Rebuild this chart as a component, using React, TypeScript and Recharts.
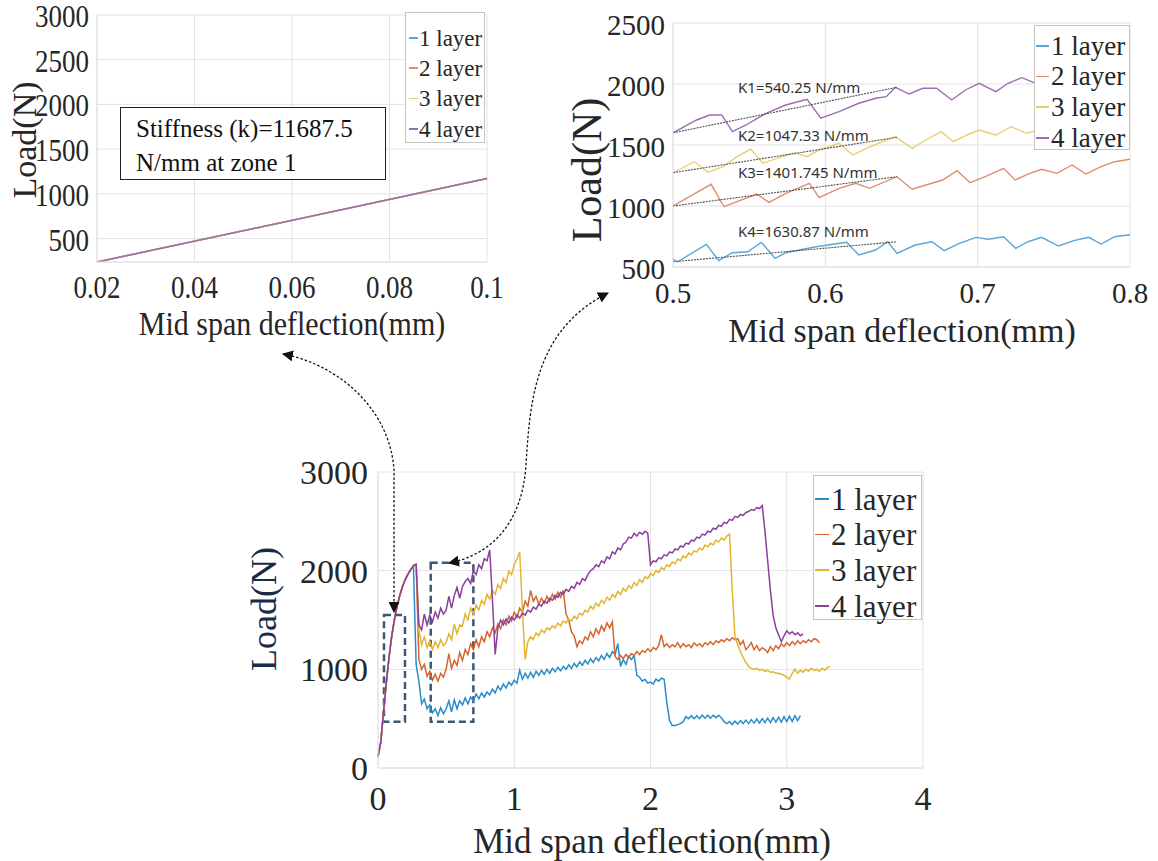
import React from "react";
import { LineChart, Line, XAxis, YAxis, CartesianGrid, ReferenceArea } from "recharts";

const SERIF = '"Liberation Serif", "Times New Roman", serif';
const SANS = '"Noto Sans", "Open Sans", sans-serif';
const INK = "#262626";
const GRID = "#e2e2e2";

const layerNames = ["1 layer", "2 layer", "3 layer", "4 layer"];
const layerColors = ["#2a8cc8", "#d6662f", "#e3b431", "#8a3f9c"];
const zoomColors = ["#5ca6d6", "#df8d6c", "#e8cf6c", "#9e6cb1"];

// ---- zone 1 (top left)
const zone1Deflection = [0.02, 0.1];
const zone1Load = [238, 1171];
const zone1XTicks = [0.02, 0.04, 0.06, 0.08, 0.1];
const zone1YTicks = [500, 1000, 1500, 2000, 2500, 3000];

// ---- zone 2 (top right), [deflection, load]
const zoomLayer1 = [
  [0.5, 563], [0.503, 543], [0.522, 686], [0.53, 552], [0.539, 617], [0.549, 625], [0.558, 702],
  [0.567, 571], [0.574, 617], [0.583, 639], [0.594, 666], [0.605, 686], [0.614, 702], [0.622, 598],
  [0.633, 639], [0.641, 707], [0.647, 612], [0.659, 680], [0.67, 707], [0.678, 634], [0.688, 694],
  [0.699, 743], [0.707, 727], [0.717, 748], [0.725, 653], [0.733, 707], [0.742, 743], [0.753, 672],
  [0.763, 716], [0.773, 743], [0.781, 688], [0.79, 748], [0.8, 765],
];
const zoomLayer2 = [
  [0.5, 1000], [0.525, 1178], [0.5335, 994], [0.555, 1098], [0.563, 1030], [0.574, 1104], [0.5895, 1186],
  [0.596, 1068], [0.609, 1145], [0.62, 1186], [0.629, 1145], [0.647, 1240], [0.657, 1137], [0.666, 1172],
  [0.677, 1213], [0.6865, 1289], [0.695, 1191], [0.705, 1240], [0.717, 1309], [0.7246, 1213], [0.733, 1262],
  [0.742, 1301], [0.752, 1268], [0.762, 1336], [0.771, 1262], [0.781, 1322], [0.79, 1363], [0.8, 1383],
];
const zoomLayer3 = [
  [0.5, 1273], [0.514, 1363], [0.523, 1276], [0.533, 1322], [0.542, 1404], [0.551, 1467], [0.559, 1350],
  [0.57, 1399], [0.58, 1437], [0.588, 1404], [0.596, 1459], [0.609, 1514], [0.618, 1418], [0.627, 1473],
  [0.6375, 1527], [0.646, 1568], [0.657, 1473], [0.666, 1541], [0.676, 1609], [0.684, 1527], [0.693, 1582],
  [0.701, 1623], [0.712, 1582], [0.722, 1650], [0.732, 1596], [0.745, 1640], [0.757, 1690], [0.768, 1640],
  [0.779, 1700], [0.79, 1750], [0.8, 1800],
];
const zoomLayer4 = [
  [0.5, 1600], [0.5155, 1705], [0.524, 1746], [0.532, 1746], [0.539, 1609], [0.548, 1664], [0.561, 1760],
  [0.574, 1828], [0.588, 1874], [0.597, 1719], [0.609, 1773], [0.622, 1842], [0.633, 1883], [0.64, 1896],
  [0.646, 1973], [0.655, 1918], [0.664, 1965], [0.673, 1965], [0.683, 1869], [0.692, 1951], [0.701, 2006],
  [0.712, 1937], [0.72, 2006], [0.729, 2052], [0.737, 2011], [0.745, 1980], [0.755, 2040], [0.765, 2080],
  [0.775, 2020], [0.785, 2080], [0.795, 2120], [0.8, 2170],
];
const fitLines = [
  [[0.5, 1600], [0.647, 1973]],
  [[0.5, 1273], [0.647, 1563]],
  [[0.5, 1000], [0.647, 1240]],
  [[0.5, 543], [0.647, 707]],
];
const stiffnessLabels = ["K1=540.25 N/mm", "K2=1047.33 N/mm", "K3=1401.745 N/mm", "K4=1630.87 N/mm"];
const zoomXTicks = [0.5, 0.6, 0.7, 0.8];
const zoomYTicks = [500, 1000, 1500, 2000, 2500];

// ---- full curves (bottom), shared deflection grid
const bottomX = [
  0, 0.02, 0.04, 0.06, 0.08, 0.1, 0.12, 0.14, 0.16, 0.18,
  0.2, 0.22, 0.24, 0.26, 0.28, 0.3, 0.32, 0.34, 0.36, 0.38,
  0.4, 0.42, 0.44, 0.46, 0.48, 0.5, 0.52, 0.54, 0.56, 0.58,
  0.6, 0.62, 0.64, 0.66, 0.68, 0.7, 0.72, 0.74, 0.76, 0.78,
  0.8, 0.82, 0.84, 0.86, 0.88, 0.9, 0.92, 0.94, 0.96, 0.98,
  1, 1.02, 1.04, 1.06, 1.08, 1.1, 1.12, 1.14, 1.16, 1.18,
  1.2, 1.22, 1.24, 1.26, 1.28, 1.3, 1.32, 1.34, 1.36, 1.38,
  1.4, 1.42, 1.44, 1.46, 1.48, 1.5, 1.52, 1.54, 1.56, 1.58,
  1.6, 1.62, 1.64, 1.66, 1.68, 1.7, 1.72, 1.74, 1.76, 1.78,
  1.8, 1.82, 1.84, 1.86, 1.88, 1.9, 1.92, 1.94, 1.96, 1.98,
  2, 2.02, 2.04, 2.06, 2.08, 2.1, 2.12, 2.14, 2.16, 2.18,
  2.2, 2.22, 2.24, 2.26, 2.28, 2.3, 2.32, 2.34, 2.36, 2.38,
  2.4, 2.42, 2.44, 2.46, 2.48, 2.5, 2.52, 2.54, 2.56, 2.58,
  2.6, 2.62, 2.64, 2.66, 2.68, 2.7, 2.72, 2.74, 2.76, 2.78,
  2.8, 2.82, 2.84, 2.86, 2.88, 2.9, 2.92, 2.94, 2.96, 2.98,
  3, 3.02, 3.04, 3.06, 3.08, 3.1, 3.12, 3.14, 3.16, 3.18,
  3.2, 3.22, 3.24, 3.26, 3.28, 3.3, 3.32,
];
// common elastic rise, 0 .. 0.26 mm
const riseLoad = [115, 260, 560, 850, 1110, 1330, 1500, 1640, 1750, 1840, 1910, 1965, 2010, 2050];
const layer1Load = [
  ...riseLoad,
  1050, 880, 650, 700, 600, 640, 560, 600, 530, 610,
  550, 600, 680, 570, 690, 600, 680, 640, 710, 650,
  720, 680, 750, 700, 760, 720, 770, 740, 800, 760,
  830, 790, 850, 810, 870, 840, 890, 860, 990, 900,
  960, 910, 970, 920, 980, 940, 990, 950, 1000, 960,
  1010, 975, 1020, 985, 1030, 1000, 1045, 1010, 1060, 1025,
  1075, 1040, 1090, 1055, 1105, 1070, 1120, 1085, 1140, 1100,
  1160, 1120, 1180, 1150, 1260, 1030, 1100, 1050, 1130, 1100,
  1140, 940, 920, 880, 900, 860, 870, 850, 900, 880,
  910, 900, 660, 480, 430, 430, 440, 450, 470, 520,
  500, 530, 500, 530, 500, 535, 505, 535, 505, 535,
  510, 535, 510, 470, 450, 470, 440, 475, 445, 480,
  450, 485, 450, 490, 455, 495, 455, 500, 460, 505,
  460, 510, 465, 515, 465, 520, 470, 525, 470, 530,
  480, 530,
];
const layer2Load = [
  ...riseLoad,
  2065, 1100, 1000, 1050, 930, 980, 890, 950, 880, 960,
  920, 1000, 1160, 1010, 1090, 1040, 1170, 1090, 1200, 1150,
  1260, 1200, 1300, 1230, 1330, 1280, 1380, 1330, 1420, 1370,
  1460, 1410, 1500, 1450, 1540, 1490, 1580, 1530, 1620, 1580,
  1690, 1640, 1800, 1690, 1740, 1660, 1720, 1670, 1740, 1690,
  1760, 1710, 1780, 1730, 1800, 1560, 1500, 1380, 1340, 1230,
  1290, 1260, 1330, 1300, 1380, 1330, 1410, 1360, 1440, 1390,
  1470, 1420, 1480, 1130, 1100, 1140, 1110, 1150, 1120, 1160,
  1140, 1180, 1150, 1190, 1170, 1210, 1180, 1220, 1200, 1240,
  1350, 1230, 1260, 1220, 1250, 1230, 1270, 1220, 1260, 1230,
  1250, 1220, 1270, 1240, 1260, 1230, 1270, 1250, 1280, 1250,
  1290, 1270, 1300, 1280, 1310, 1290, 1320, 1300, 1310, 1250,
  1290, 1200, 1230, 1270, 1200, 1240, 1190, 1220, 1200, 1170,
  1230, 1190, 1240, 1210, 1260, 1230, 1270, 1240, 1280, 1250,
  1290, 1260, 1290, 1270, 1300, 1280, 1310, 1300, 1270,
];
const layer3Load = [
  ...riseLoad,
  2065, 1400, 1250, 1330, 1220, 1290, 1200, 1280, 1220, 1300,
  1240, 1270, 1360, 1300, 1460, 1360, 1450, 1440, 1560, 1500,
  1620, 1560, 1650, 1600, 1700, 1660, 1760, 1710, 1800, 1760,
  1860, 1820, 1920, 1880, 1990, 1960, 2060, 2120, 2190, 1600,
  1100, 1280, 1330, 1300, 1370, 1340, 1400, 1370, 1420, 1400,
  1440, 1420, 1470, 1440, 1490, 1470, 1510, 1490, 1540, 1510,
  1570, 1550, 1600, 1580, 1640, 1610, 1670, 1640, 1700, 1670,
  1730, 1700, 1760, 1730, 1790, 1760, 1820, 1790, 1850, 1820,
  1880, 1850, 1910, 1880, 1940, 1920, 1970, 1950, 2000, 1980,
  2030, 2010, 2060, 2040, 2090, 2070, 2120, 2100, 2150, 2130,
  2180, 2160, 2200, 2190, 2230, 2210, 2260, 2240, 2280, 2260,
  2310, 2290, 2330, 2310, 2350, 2370, 1800, 1330, 1250, 1180,
  1120, 1070, 1030, 1010, 1000, 1010, 990, 1000, 980, 990,
  970, 975, 960, 960, 950, 940, 920, 900, 960, 1000,
  960, 990, 970, 1000, 980, 1010, 990, 1000, 980, 1010,
  990, 1020, 1030,
];
const layer4Load = [
  ...riseLoad,
  2065, 1450, 1400, 1560, 1450, 1550, 1480, 1580, 1520, 1620,
  1560, 1600, 1740, 1620, 1750, 1830, 1720, 1840, 1890, 1920,
  1870, 2000, 1960, 2060, 2020, 2120, 2100, 2210, 1700, 1150,
  1420, 1500, 1450, 1510, 1470, 1530, 1500, 1550, 1520, 1570,
  1550, 1600, 1580, 1630, 1610, 1660, 1640, 1690, 1670, 1720,
  1700, 1750, 1730, 1780, 1760, 1810, 1790, 1840, 1820, 1880,
  1860, 1920, 1900, 1960, 2000, 2020, 2060, 2040, 2100, 2080,
  2140, 2120, 2190, 2170, 2230, 2210, 2270, 2290, 2340, 2330,
  2380, 2350, 2390, 2370, 2400, 2380, 2060, 2100, 2090, 2130,
  2120, 2160, 2150, 2190, 2180, 2220, 2210, 2250, 2240, 2280,
  2270, 2310, 2300, 2340, 2330, 2370, 2360, 2400, 2390, 2430,
  2420, 2460, 2450, 2490, 2480, 2520, 2510, 2550, 2540, 2570,
  2560, 2590, 2600, 2620, 2610, 2640, 2630, 2660, 2400, 2100,
  1800, 1550, 1420, 1350, 1280, 1340, 1390, 1360, 1380, 1350,
  1370, 1340, 1360,
];
const bottomXTicks = [0, 1, 2, 3, 4];
const bottomYTicks = [0, 1000, 2000, 3000];

// tick renderers; `tall` stretches glyphs vertically (the top-left panel is squashed sideways)
const xTick = (size: number, dy: number, tall = 1) => (p: any) => (
  <text transform={`translate(${p.x},${p.y + dy}) scale(1,${tall})`} textAnchor="middle"
    fontFamily={SERIF} fontSize={size} fill={INK}>
    {p.payload.value}
  </text>
);
const yTick = (size: number, gap: number, dy: number, tall = 1) => (p: any) => (
  <text transform={`translate(${p.x - gap},${p.y + dy}) scale(1,${tall})`} textAnchor="end"
    fontFamily={SERIF} fontSize={size} fill={INK}>
    {p.payload.value}
  </text>
);

const toPoints = (pairs: number[][]) => pairs.map(([x, y]) => ({ x, y }));

function ZoneOneChart() {
  const data = zone1Deflection.map((x, i) => ({ x, load: zone1Load[i] }));
  return (
    <div style={{ position: "absolute", left: 0, top: 0 }}>
      <LineChart width={520} height={345} data={data} margin={{ top: 15, right: 33, bottom: 0, left: 0 }}>
        <CartesianGrid stroke={GRID} />
        <XAxis type="number" dataKey="x" domain={[0.02, 0.1]} ticks={zone1XTicks} height={83}
          axisLine={{ stroke: GRID }} tickLine={false} tickSize={0} tickMargin={0} tick={xTick(27, 36, 1.18)} />
        <YAxis type="number" domain={[238, 3000]} ticks={zone1YTicks} width={97} allowDataOverflow
          axisLine={{ stroke: GRID }} tickLine={false} tickSize={0} tickMargin={0} tick={yTick(27, 8, 12, 1.18)} />
        {layerNames.map((name, i) => (
          <Line key={name} name={name} dataKey="load" stroke={zoomColors[i]} strokeWidth={1.5}
            dot={false} isAnimationActive={false} />
        ))}
      </LineChart>
    </div>
  );
}

function ZoneTwoChart() {
  const series = [zoomLayer1, zoomLayer2, zoomLayer3, zoomLayer4];
  return (
    <div style={{ position: "absolute", left: 560, top: 0 }}>
      <LineChart width={598} height={360} margin={{ top: 23, right: 28, bottom: 0, left: 0 }}>
        <CartesianGrid stroke={GRID} />
        <XAxis type="number" dataKey="x" domain={[0.5, 0.8]} ticks={zoomXTicks} height={93} allowDataOverflow
          axisLine={{ stroke: GRID }} tickLine={false} tickSize={0} tickMargin={0} tick={xTick(29, 36)} />
        <YAxis type="number" domain={[500, 2500]} ticks={zoomYTicks} width={113} allowDataOverflow
          axisLine={{ stroke: GRID }} tickLine={false} tickSize={0} tickMargin={0} tick={yTick(29, 8, 12)} />
        {series.map((s, i) => (
          <Line key={layerNames[i]} name={layerNames[i]} data={toPoints(s)} dataKey="y" stroke={zoomColors[i]}
            strokeWidth={1.4} dot={false} isAnimationActive={false} />
        ))}
        {fitLines.map((f, i) => (
          <Line key={"fit" + i} data={toPoints(f)} dataKey="y" stroke="#505050" strokeWidth={1.1}
            strokeDasharray="2 1" dot={false} legendType="none" isAnimationActive={false} />
        ))}
      </LineChart>
    </div>
  );
}

function FullChart() {
  const rows = bottomX.map((x, i) => ({
    x,
    l1: layer1Load[i] ?? null,
    l2: layer2Load[i] ?? null,
    l3: layer3Load[i] ?? null,
    l4: layer4Load[i] ?? null,
  }));
  const keys = ["l1", "l2", "l3", "l4"];
  return (
    <div style={{ position: "absolute", left: 240, top: 440 }}>
      <LineChart width={700} height={421} data={rows} margin={{ top: 32, right: 17, bottom: 0, left: 0 }}>
        <CartesianGrid stroke={GRID} />
        <XAxis type="number" dataKey="x" domain={[0, 4]} ticks={bottomXTicks} height={93}
          axisLine={{ stroke: GRID }} tickLine={false} tickSize={0} tickMargin={0} tick={xTick(34, 42)} />
        <YAxis type="number" domain={[0, 3000]} ticks={bottomYTicks} width={138}
          axisLine={{ stroke: GRID }} tickLine={false} tickSize={0} tickMargin={0} tick={yTick(34, 10, 12)} />
        {keys.map((k, i) => (
          <Line key={k} name={layerNames[i]} dataKey={k} stroke={layerColors[i]} strokeWidth={1.5}
            dot={false} isAnimationActive={false} />
        ))}
        <ReferenceArea x1={0.044} x2={0.198} y1={470} y2={1550} fill="none" stroke="#3c5874"
          strokeWidth={2.5} strokeDasharray="7 4" />
        <ReferenceArea x1={0.387} x2={0.7} y1={470} y2={2080} fill="none" stroke="#3c5874"
          strokeWidth={2.5} strokeDasharray="7 4" />
      </LineChart>
    </div>
  );
}

function LegendBox({ left, top, width, height, fontSize, first, step, colors, markLeft, markWidth, textLeft }: any) {
  return (
    <div style={{ position: "absolute", left, top, width, height, boxSizing: "border-box",
      border: "1px solid #c4c4c4", background: "#fff" }}>
      {layerNames.map((name, i) => {
        const c = first + i * step;
        return (
          <React.Fragment key={name}>
            <div style={{ position: "absolute", left: markLeft, top: c - 1, width: markWidth, height: 1.5, background: colors[i] }} />
            <div style={{ position: "absolute", left: textLeft, top: c - fontSize / 2, fontFamily: SERIF,
              fontSize, lineHeight: `${fontSize}px`, color: INK, whiteSpace: "nowrap" }}>{name}</div>
          </React.Fragment>
        );
      })}
    </div>
  );
}

function Annotations() {
  const kY = [93, 141, 178, 237];
  return (
    <svg width={1158} height={861} style={{ position: "absolute", left: 0, top: 0, pointerEvents: "none" }}>
      <defs>
        <marker id="head" viewBox="0 0 10 10" refX="9" refY="5" markerWidth="11" markerHeight="11"
          markerUnits="userSpaceOnUse" orient="auto-start-reverse">
          <path d="M0,0 L10,5 L0,10 z" fill="#111" />
        </marker>
      </defs>
      {/* axis titles */}
      <text transform="translate(292,335) scale(1,1.1)" textAnchor="middle" fontFamily={SERIF} fontSize={30} fill={INK}>Mid span deflection(mm)</text>
      <text transform="translate(36,140) rotate(-90)" textAnchor="middle" fontFamily={SERIF} fontSize={34} fill={INK}>Load(N)</text>
      <text x={902} y={342} textAnchor="middle" fontFamily={SERIF} fontSize={34} fill={INK}>Mid span deflection(mm)</text>
      <text transform="translate(601,170) rotate(-90)" textAnchor="middle" fontFamily={SERIF} fontSize={42} fill={INK}>Load(N)</text>
      <text x={652} y={853} textAnchor="middle" fontFamily={SERIF} fontSize={35} fill={INK}>Mid span deflection(mm)</text>
      <text transform="translate(276,609) rotate(-90)" textAnchor="middle" fontFamily={SERIF} fontSize={36} fill="#1c2a4a">Load(N)</text>
      {/* stiffness labels of the zoomed panel */}
      {stiffnessLabels.map((t, i) => (
        <text key={t} x={738} y={kY[i]} fontFamily={SANS} fontSize={15} fill="#333">{t}</text>
      ))}
      {/* dotted link arrows */}
      <path d="M 283 354 C 340 365, 390 410, 394 470 L 394 612" fill="none" stroke="#111" strokeWidth={1.3}
        strokeDasharray="2.5 2" markerStart="url(#head)" markerEnd="url(#head)" />
      <path d="M 449 563 C 490 555, 522 525, 526 465 C 530 400, 535 330, 608 293" fill="none" stroke="#111"
        strokeWidth={1.3} strokeDasharray="2.5 2" markerStart="url(#head)" markerEnd="url(#head)" />
    </svg>
  );
}

export default function App() {
  return (
    <div style={{ position: "absolute", left: 0, top: 0, width: 1158, height: 861, background: "#fff", overflow: "hidden" }}>
      <ZoneOneChart />
      <ZoneTwoChart />
      <FullChart />
      <Annotations />
      <div style={{ position: "absolute", left: 120, top: 107, width: 266, height: 73, boxSizing: "border-box",
        border: "1.5px solid #222", background: "#fff", fontFamily: SERIF, fontSize: 25, lineHeight: "34px",
        padding: "4px 0 0 15px", color: "#111" }}>
        Stiffness (k)=11687.5<br />N/mm at zone 1
      </div>
      <LegendBox left={405} top={12} width={80} height={131} fontSize={23} first={25} step={30.4}
        colors={zoomColors} markLeft={3} markWidth={9} textLeft={13} />
      <LegendBox left={1034} top={25} width={96} height={125} fontSize={27} first={20} step={30.7}
        colors={zoomColors} markLeft={1} markWidth={13} textLeft={16} />
      <LegendBox left={813} top={475} width={109} height={145} fontSize={31} first={23} step={35.7}
        colors={layerColors} markLeft={1} markWidth={14} textLeft={17} />
    </div>
  );
}
